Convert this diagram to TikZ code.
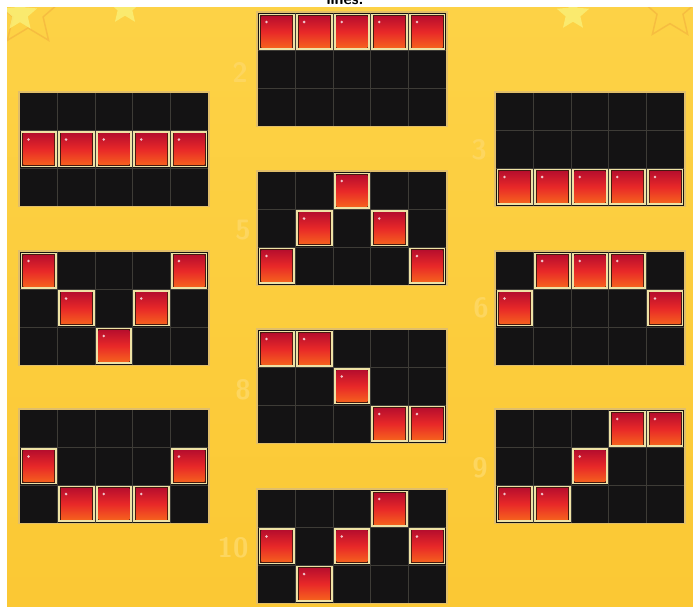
\documentclass[tikz,border=0pt]{standalone}
\usetikzlibrary{shapes.geometric}
\definecolor{bgyel}{RGB}{251,200,52}
\definecolor{bgyellight}{RGB}{253,210,70}
\definecolor{staryel}{RGB}{250,240,120}
\definecolor{starline}{RGB}{240,170,60}
\definecolor{gridblack}{RGB}{20,19,20}
\definecolor{gridlinecol}{RGB}{62,60,55}
\definecolor{framecol}{RGB}{225,190,105}
\definecolor{tileedgecol}{RGB}{238,226,165}
\definecolor{tilegap}{RGB}{70,25,15}
\definecolor{tiletop}{RGB}{185,15,45}
\definecolor{tilemid}{RGB}{232,40,40}
\definecolor{tilebot}{RGB}{245,95,30}
\definecolor{numyel}{RGB}{253,214,95}
\tikzset{
  gridbg/.style={fill=gridblack},
  gridline/.style={draw=gridlinecol, line width=0.7pt},
  gridframe/.style={draw=framecol, line width=2.2pt},
  tileedge/.style={fill=tileedgecol},
  tilegapst/.style={fill=tilegap},
  tilered/.style={top color=tiletop, bottom color=tilebot, middle color=tilemid},
  tileshine/.style={fill=white, opacity=0.75},
  numlab/.style={font=\sffamily\bfseries\fontsize{28}{28}\selectfont, text=numyel},
  starfill/.style={star, star points=5, star point ratio=2.2, fill=staryel, opacity=0.8, inner sep=0pt},
  staroutline/.style={star, star points=5, star point ratio=2.2, draw=starline, line width=1.5pt, opacity=0.5, inner sep=0pt}
}
\newcommand\tilegrid[3]{%
  \begin{scope}[shift={(#1,#2)}]
    \draw[gridframe] (-0.5,-0.5) rectangle (188.5,113);
    \fill[gridbg] (0,0) rectangle (188,112.5);
    \foreach \i in {1,...,4} \draw[gridline] (\i*37.6,0) -- (\i*37.6,112.5);
    \foreach \j in {1,2} \draw[gridline] (0,\j*37.5) -- (188,\j*37.5);
    \foreach \r/\c in {#3} {
      \fill[tileedge] (\c*37.6+0.6,\r*37.5+0.6) rectangle (\c*37.6+37,\r*37.5+36.9);
      \fill[tilegapst] (\c*37.6+2.4,\r*37.5+2.4) rectangle (\c*37.6+35.2,\r*37.5+35.1);
      \shade[tilered] (\c*37.6+3.4,\r*37.5+3.4) rectangle (\c*37.6+34.2,\r*37.5+34.1);
      \fill[tileshine] (\c*37.6+8.5,\r*37.5+9) circle (1.4);
    }
  \end{scope}}
\begin{document}
\begin{tikzpicture}[x=1pt,y=-1pt]
\useasboundingbox (0,0) rectangle (693,606);
\fill[white] (0,0) rectangle (693,606);
\begin{scope}
  \clip (0,0) rectangle (693,7);
  \node[font=\sffamily\bfseries\fontsize{16}{16}\selectfont, text=black, anchor=south] at (345,8.5) {lines.};
\end{scope}
\begin{scope}
  \clip (7,7) rectangle (693,606);
  \shade[top color=bgyellight, bottom color=bgyel] (7,7) rectangle (693,606);
  \node[staroutline, minimum size=70pt] at (28,12) {};
  \node[starfill, minimum size=36pt] at (20,14) {};
  \node[starfill, minimum size=34pt] at (125,8) {};
  \node[starfill, minimum size=34pt] at (573,14) {};
  \node[staroutline, minimum size=60pt] at (670,10) {};
\end{scope}
% faint numbers
\node[numlab] (n2) at (240,72) {2};
\node[numlab] (n3) at (479,150) {3};
\node[numlab] (n5) at (243,230) {5};
\node[numlab] (n6) at (481,308) {6};
\node[numlab] (n8) at (243,390) {8};
\node[numlab] (n9) at (480,468) {9};
\node[numlab] (n10) at (233,548) {10};
% grids
\tilegrid{20}{93}{1/0,1/1,1/2,1/3,1/4}
\tilegrid{258}{13}{0/0,0/1,0/2,0/3,0/4}
\tilegrid{496}{93}{2/0,2/1,2/2,2/3,2/4}
\tilegrid{20}{252}{0/0,0/4,1/1,1/3,2/2}
\tilegrid{258}{172}{0/2,1/1,1/3,2/0,2/4}
\tilegrid{496}{252}{0/1,0/2,0/3,1/0,1/4}
\tilegrid{20}{410}{1/0,1/4,2/1,2/2,2/3}
\tilegrid{258}{330}{0/0,0/1,1/2,2/3,2/4}
\tilegrid{496}{410}{0/3,0/4,1/2,2/0,2/1}
\tilegrid{258}{490}{0/3,1/0,1/2,1/4,2/1}
\end{tikzpicture}
\end{document}
